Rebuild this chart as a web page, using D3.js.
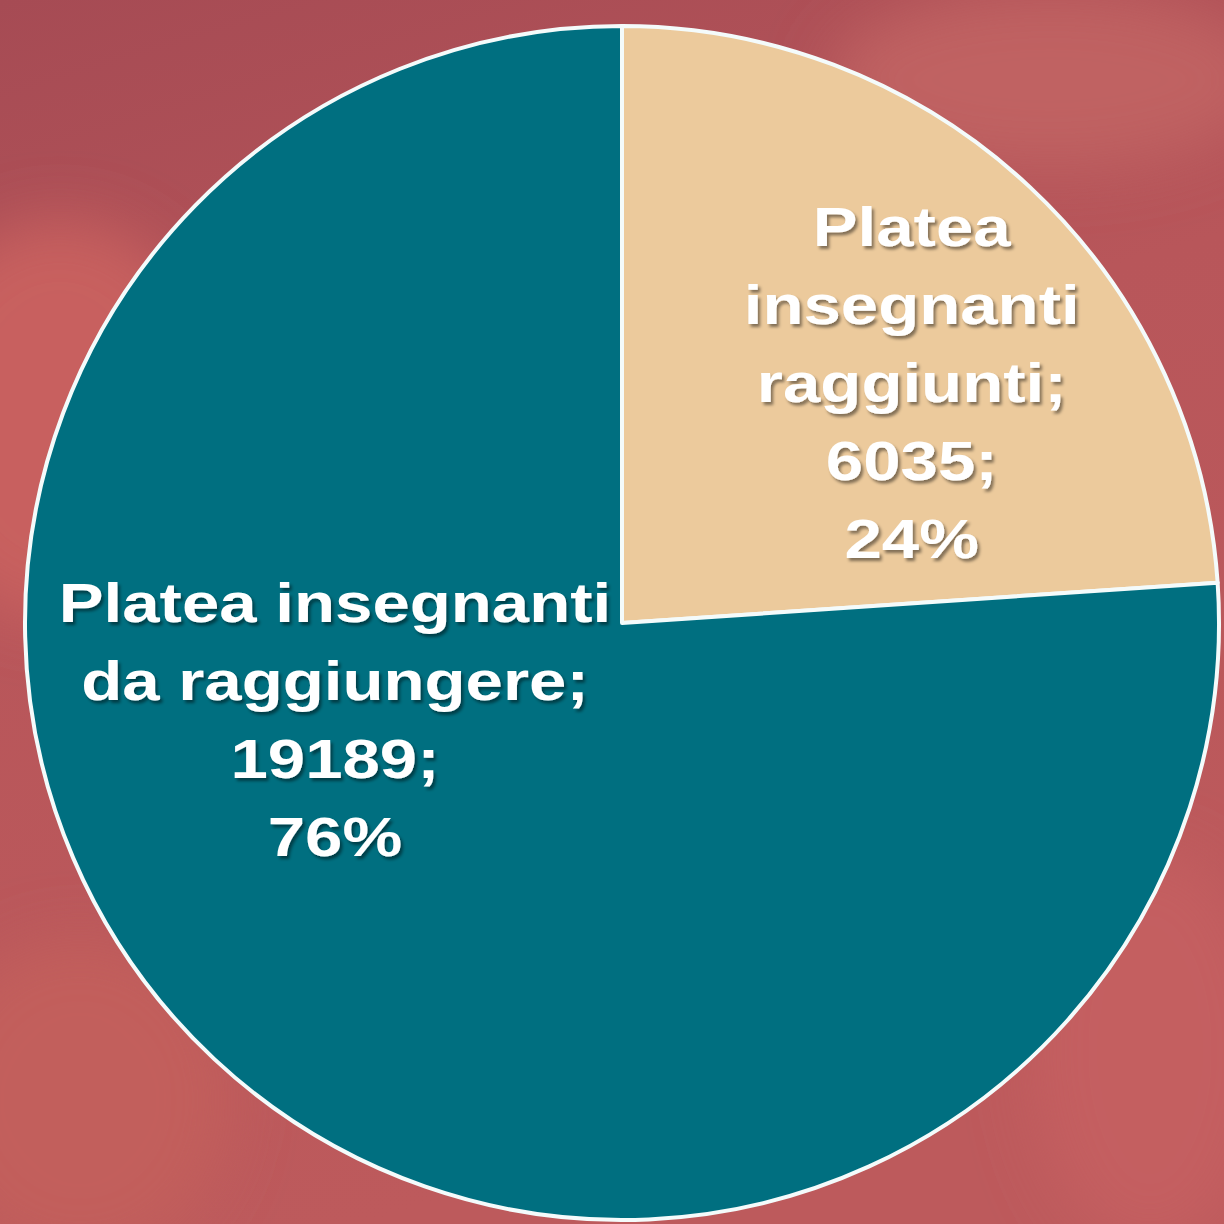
<!DOCTYPE html>
<html>
<head>
<meta charset="utf-8">
<script src="https://cdn.jsdelivr.net/npm/d3@7"></script>
<style>
  html, body { margin: 0; padding: 0; background: #b0505a; }
  svg { display: block; }
</style>
</head>
<body>
<svg id="chart" width="1224" height="1224"></svg>
<script>
// dati del grafico
var categories = ["Platea insegnanti raggiunti", "Platea insegnanti da raggiungere"];
var values = [6035, 19189];
var percents = ["24%", "76%"];
// righe delle etichette, come nel grafico originale
var labelLines = [
  ["Platea", "insegnanti", "raggiunti;", "6035;", "24%"],
  ["Platea insegnanti", "da raggiungere;", "19189;", "76%"]
];
var colors = ["#ecca9c", "#006f80"];

var W = 1224, H = 1224;
var cx = 622, cy = 623, R = 597;

var svg = d3.select("#chart");

// sfondo rosso sfocato (foto dietro al grafico)
var defs = svg.append("defs");
var bg = defs.append("linearGradient").attr("id", "bg")
  .attr("x1", 0).attr("y1", 0).attr("x2", 0.3).attr("y2", 1);
bg.append("stop").attr("offset", "0%").attr("stop-color", "#a64b54");
bg.append("stop").attr("offset", "45%").attr("stop-color", "#b8565a");
bg.append("stop").attr("offset", "100%").attr("stop-color", "#bd5a5c");
defs.append("filter").attr("id", "blur")
  .append("feGaussianBlur").attr("stdDeviation", 30);
var sh = defs.append("filter").attr("id", "shadow")
  .attr("x", "-10%").attr("y", "-10%").attr("width", "120%").attr("height", "130%");
sh.append("feDropShadow").attr("dx", 2).attr("dy", 3).attr("stdDeviation", 1.5)
  .attr("flood-color", "#000").attr("flood-opacity", 0.45);

svg.append("rect").attr("width", W).attr("height", H).attr("fill", "url(#bg)");
var blobs = svg.append("g").attr("filter", "url(#blur)");
blobs.append("ellipse").attr("cx", 60).attr("cy", 420).attr("rx", 160).attr("ry", 200).attr("fill", "#c8615e");
blobs.append("ellipse").attr("cx", 1050).attr("cy", 80).attr("rx", 220).attr("ry", 90).attr("fill", "#c06262");
blobs.append("ellipse").attr("cx", 1150).attr("cy", 1050).attr("rx", 120).attr("ry", 200).attr("fill", "#c45f60");
blobs.append("ellipse").attr("cx", 80).attr("cy", 1100).attr("rx", 150).attr("ry", 160).attr("fill", "#c25e5c");

// torta
var pie = d3.pie().sort(null).value(function(d){ return d; });
var arc = d3.arc().innerRadius(0).outerRadius(R);
var arcs = pie(values);

var g = svg.append("g").attr("transform", "translate(" + cx + "," + cy + ")");

g.selectAll("path.slice")
  .data(arcs)
  .enter()
  .append("path")
  .attr("class", "slice")
  .attr("d", arc)
  .attr("fill", function(d, i){ return colors[i]; })
  .attr("stroke", "#f4fbfb")
  .attr("stroke-width", 4)
  .attr("stroke-linejoin", "round");

// posizione delle etichette: angolo (gradi dall'alto) e distanza dal centro
var labelAnchor = [
  { angle: 50.4, dist: 376 },
  { angle: 251.3, dist: 303 }
];
var lineH = 78;

var labels = g.selectAll("g.label")
  .data(arcs)
  .enter()
  .append("g")
  .attr("class", "label")
  .attr("filter", "url(#shadow)")
  .attr("transform", function(d, i){
    var a = labelAnchor[i].angle * Math.PI / 180;
    var x = Math.sin(a) * labelAnchor[i].dist;
    var y = -Math.cos(a) * labelAnchor[i].dist;
    return "translate(" + x + "," + y + ") scale(1.2,1)";
  });

labels.append("text")
  .attr("text-anchor", "middle")
  .attr("font-family", "Liberation Sans, Arial, sans-serif")
  .attr("font-weight", "bold")
  .attr("font-size", 56)
  .attr("fill", "#ffffff")
  .each(function(d, i){
    var lines = labelLines[i];
    var t = d3.select(this);
    lines.forEach(function(s, k){
      t.append("tspan")
        .attr("x", 0)
        .attr("y", (k - (lines.length - 1) / 2) * lineH + 19)
        .text(s);
    });
  });
</script>
</body>
</html>
